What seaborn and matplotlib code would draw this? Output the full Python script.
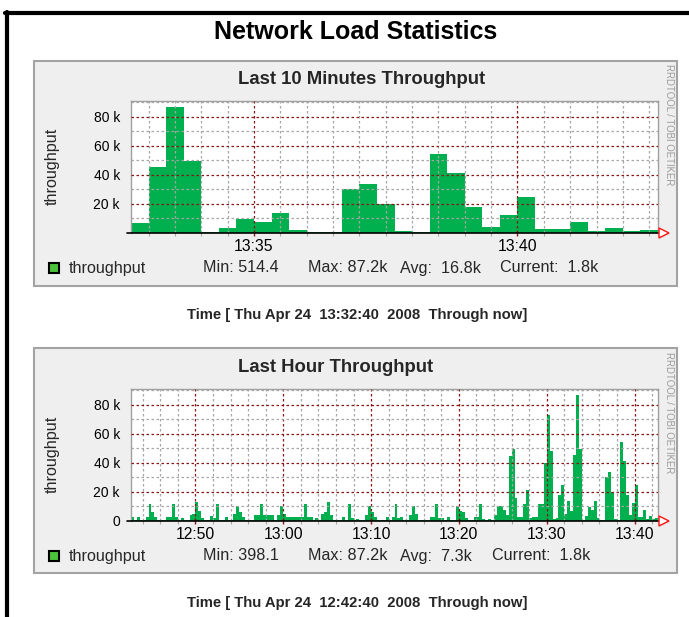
import numpy as np
import pandas as pd
import seaborn as sns
import matplotlib.pyplot as plt
from matplotlib.patches import Rectangle
from matplotlib.lines import Line2D
from matplotlib.ticker import MultipleLocator, FuncFormatter
import matplotlib.transforms as mtransforms

# throughput in k, one value per 20 s step
last10_values = [6.7, 45.6, 87.2, 49.5, 0.5, 3.4, 9.8, 7.6, 14.0, 2.3,
                 0.7, 0.6, 30.0, 34.0, 20.2, 1.5, 0.6, 54.5, 41.4, 18.0,
                 4.4, 12.4, 25.0, 3.1, 3.1, 7.7, 1.5, 3.2, 1.6, 1.8]

# 12:42:40 .. 13:32:40, the last 10 minutes follow
hour_values_before = [
    2.5, 0.8, 2.5, 0.8, 0.5, 3.0, 11.4, 6.5, 3.0, 1.0,
    0.5, 0.5, 3.0, 2.5, 12.0, 3.0, 0.5, 2.0, 0.5, 0.5,
    4.0, 5.0, 13.0, 7.0, 2.0, 0.5, 0.5, 3.4, 2.0, 12.0,
    1.0, 0.5, 2.5, 0.5, 0.5, 5.0, 10.0, 6.0, 3.0, 0.5,
    0.5, 0.5, 3.8, 3.8, 12.0, 3.8, 3.8, 3.8, 3.8, 0.5,
    4.0, 10.0, 5.0, 2.7, 2.7, 2.7, 2.7, 2.7, 2.7, 12.0,
    2.7, 2.7, 0.5, 2.0, 0.5, 4.5, 6.0, 13.0, 4.0, 0.5,
    0.5, 0.5, 3.0, 0.5, 12.0, 2.0, 0.5, 1.5, 0.5, 0.5,
    4.0, 10.0, 6.0, 3.0, 0.5, 0.5, 0.5, 3.0, 0.5, 3.0,
    12.0, 2.0, 2.5, 0.5, 0.5, 4.0, 10.0, 4.5, 0.5, 0.5,
    0.5, 0.5, 3.0, 2.5, 12.0, 2.0, 2.0, 0.5, 2.5, 0.5,
    0.5, 10.0, 7.0, 6.5, 2.0, 0.5, 0.5, 3.0, 2.5, 12.0,
    1.5, 0.5, 1.5, 0.5, 4.0, 10.0, 10.0, 7.5, 4.0, 45.0,
    49.5, 16.0, 3.0, 2.5, 12.0, 21.6, 2.0, 2.5, 3.0, 11.4,
    11.4, 40.0, 73.0, 48.0, 1.5, 2.0, 18.0, 25.0, 5.0, 13.6,
]
hour_values = hour_values_before + last10_values

step = 20  # seconds
last10_start = 13 * 3600 + 32 * 60 + 40
hour_start = 12 * 3600 + 42 * 60 + 40

panel_titles = ["Last 10 Minutes Throughput", "Last Hour Throughput"]
legend_stats = [["Min: 514.4", "Max: 87.2k", "Avg:  16.8k", "Current:  1.8k"],
                ["Min: 398.1", "Max: 87.2k", "Avg:  7.3k", "Current:  1.8k"]]
time_texts = ["Time [ Thu Apr 24  13:32:40  2008  Through now]",
              "Time [ Thu Apr 24  12:42:40  2008  Through now]"]

W, H = 689, 617
GREEN = "#00b04f"
MGRID = "#8b1414"
GRID = "#a6a6a6"

sns.set_theme(style="white")
plt.rcParams["font.family"] = ["Liberation Sans", "DejaVu Sans"]

fig = plt.figure(figsize=(W / 100, H / 100), dpi=100)
fig.patch.set_facecolor("white")


def fx(x):
    return x / W


def fy(y):
    return 1 - y / H


def rect(x0, y0, x1, y1):
    return [fx(x0), fy(y1), (x1 - x0) / W, (y1 - y0) / H]


def hhmm(s, _pos):
    return f"{int(s // 3600):02d}:{int(s % 3600 // 60):02d}"


# page frame
fig.add_artist(Line2D([fx(7), fx(7)], [fy(12), 0], color="black", lw=3, transform=fig.transFigure))
fig.add_artist(Line2D([fx(5), 1], [fy(13), fy(13)], color="black", lw=3, transform=fig.transFigure))
fig.text(fx(356), fy(32), "Network Load Statistics", ha="center", va="center",
         fontsize=18, fontweight="bold", color="black")

panels = [
    dict(dy=0, box=(61, 286), values=last10_values, start=last10_start,
         major=300, minor=30, zero=False, cur_x=500),
    dict(dy=288, box=(348, 573), values=hour_values, start=hour_start,
         major=600, minor=120, zero=True, cur_x=492),
]

for k, p in enumerate(panels):
    dy = p["dy"]
    b0, b1 = p["box"]
    # grey canvas of the rrd graph
    fig.add_artist(Rectangle((fx(34), fy(b1)), (677 - 34) / W, (b1 - b0) / H,
                             transform=fig.transFigure, facecolor="#efefef",
                             edgecolor="#a3a3a3", lw=1.5, zorder=0))
    fig.text(fx(238), fy(80 + dy), panel_titles[k], ha="left", va="center",
             fontsize=13.3, fontweight="bold")
    fig.text(fx(669), fy(64 + dy), "RRDTOOL / TOBI OETIKER", rotation=270,
             ha="center", va="top", fontsize=6.9, color="#9a9a9a")
    fig.text(fx(52), fy(166 + dy), "throughput", rotation=90, ha="center",
             va="center", fontsize=11.6)

    ax = fig.add_axes(rect(131, 101 + dy, 658, 233 + dy))
    ax.set_facecolor("white")
    vals = p["values"]
    df = pd.DataFrame({
        "t": p["start"] + step * np.arange(len(vals)) + step / 2,
        "v": vals,
    })
    edges = (p["start"] + step * np.arange(len(vals) + 1)).tolist()
    sns.histplot(data=df, x="t", weights="v", bins=edges, element="step",
                 fill=True, color=GREEN, alpha=1, linewidth=0, ax=ax)

    ax.set_xlim(edges[0], edges[-1])
    ax.set_ylim(0, 91)
    ax.set_xlabel("")
    ax.set_ylabel("")

    ax.xaxis.set_major_locator(MultipleLocator(p["major"]))
    ax.xaxis.set_minor_locator(MultipleLocator(p["minor"]))
    ax.xaxis.set_major_formatter(FuncFormatter(hhmm))
    ax.yaxis.set_major_locator(MultipleLocator(20))
    ax.yaxis.set_minor_locator(MultipleLocator(10))
    zero = p["zero"]
    ax.yaxis.set_major_formatter(FuncFormatter(
        lambda v, _p, zero=zero: ("0" if zero else "") if v == 0 else f"{int(v)} k"))

    ax.grid(which="minor", color=GRID, linestyle=(0, (2, 2)), lw=0.9)
    ax.grid(which="major", color=MGRID, linestyle=(0, (2, 2)), lw=0.9)
    ax.set_axisbelow(False)
    for c in ax.collections:
        c.set_zorder(0.5)

    ax.tick_params(axis="x", which="major", length=4, width=1, color=MGRID,
                   direction="inout", pad=2, labelsize=11.3, labelcolor="black", bottom=True)
    ax.tick_params(axis="x", which="minor", length=4, width=0.8, color=GRID,
                   direction="inout", bottom=True)
    ax.tick_params(axis="y", which="major", length=0, pad=8,
                   labelsize=10, labelcolor="black")
    ax.tick_params(axis="y", which="minor", length=0)
    for side in ["top", "left", "right"]:
        ax.spines[side].set_color("#a0a0a0")
        ax.spines[side].set_linewidth(1)
    ax.spines["bottom"].set_visible(False)

    # black time axis with red arrow
    ax.add_line(Line2D([-0.008, 1.016], [0, 0], transform=ax.transAxes, color="black",
                       lw=1.2, clip_on=False, zorder=5))
    arrow_tr = mtransforms.offset_copy(ax.transAxes, fig=fig, x=6, y=0, units="dots")
    ax.plot([1.0], [0], marker=">", markersize=7, mfc="white", mec="#ff2020", mew=1.1,
            transform=arrow_tr, clip_on=False, zorder=6)

    # legend line
    fig.add_artist(Rectangle((fx(49), fy(273 + dy)), 10 / W, 10 / H, transform=fig.transFigure,
                             facecolor="#4cc33c", edgecolor="black", lw=1.5))
    fig.text(fx(69), fy(268 + dy), "throughput", ha="left", va="center", fontsize=11.6)
    for sx, s in zip([203, 307.5, 400, p["cur_x"]], legend_stats[k]):
        fig.text(fx(sx), fy(268 + dy), s, ha="left", va="center", fontsize=11.6)

    fig.text(fx(357), fy(315 + dy), time_texts[k], ha="center", va="center",
             fontsize=10.7, fontweight="bold")

fig.savefig("out.png", dpi=100)
